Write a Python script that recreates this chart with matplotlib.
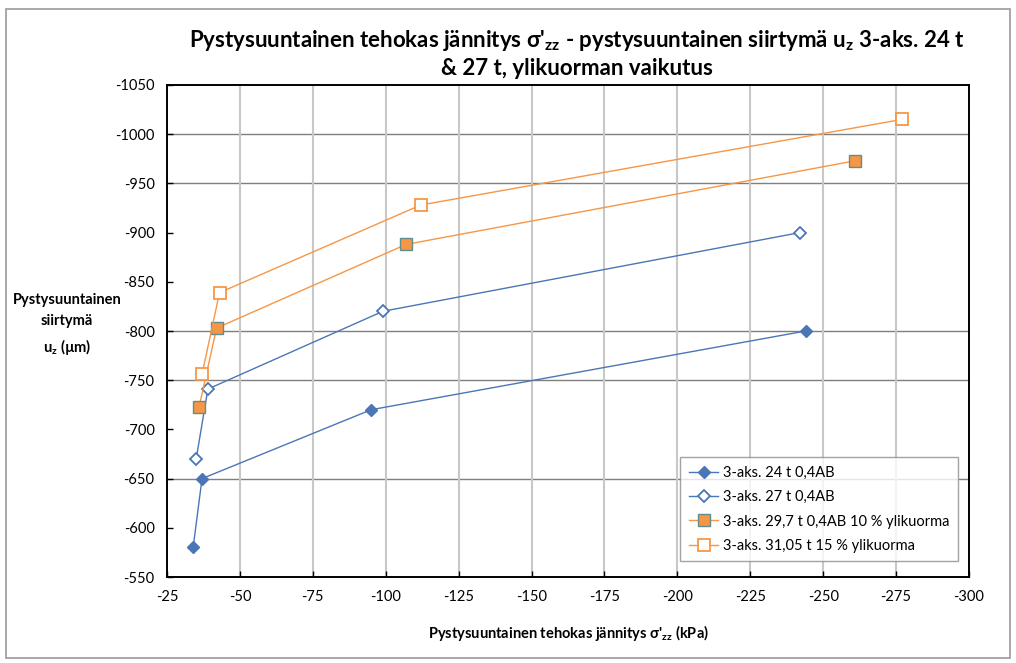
import matplotlib.pyplot as plt
from matplotlib.patches import Rectangle

plt.rcParams['font.family'] = ['Lato', 'DejaVu Sans']
plt.rcParams['mathtext.default'] = 'regular'
plt.rcParams['axes.unicode_minus'] = False

# stress (kPa) and vertical displacement (um) per load case
labels = ['3-aks. 24 t 0,4AB',
          '3-aks. 27 t 0,4AB',
          '3-aks. 29,7 t 0,4AB 10 % ylikuorma',
          '3-aks. 31,05 t 15 % ylikuorma']
x_24 = [-34, -37, -95, -244]
y_24 = [-581, -650, -720, -800]
x_27 = [-35, -39, -99, -242]
y_27 = [-670, -741, -820, -900]
x_297 = [-36, -42, -107, -261]
y_297 = [-723, -803, -888, -973]
x_3105 = [-37, -43, -112, -277]
y_3105 = [-756, -839, -928, -1015]

x_ticks = list(range(-25, -301, -25))
y_ticks = list(range(-550, -1051, -50))
hgrid_levels = [-1000, -950, -800, -750, -650]

blue = '#4a76b8'
orange = '#f79646'

fig = plt.figure(figsize=(10.16, 6.63), dpi=100)
fig.patches.append(Rectangle((0.006, 0.008), 0.988, 0.978, transform=fig.transFigure,
                             fill=False, edgecolor='#9a9a9a', linewidth=1.2))
ax = fig.add_axes([0.1644, 0.1297, 0.7893, 0.7421])

for lv in hgrid_levels:
    ax.axhline(lv, color='#7f7f7f', linewidth=1.0, zorder=1)
for xv in x_ticks[1:-1]:
    ax.axvline(xv, color='#c8c8c8', linewidth=1.5, zorder=1)

ax.plot(x_24, y_24, color=blue, linewidth=1.0, marker='D', markersize=6.5,
        markerfacecolor=blue, markeredgecolor=blue, label=labels[0], zorder=3)
ax.plot(x_27, y_27, color=blue, linewidth=1.0, marker='D', markersize=6.5,
        markerfacecolor='white', markeredgecolor=blue, markeredgewidth=1.3,
        label=labels[1], zorder=3)
ax.plot(x_297, y_297, color=orange, linewidth=1.0, marker='s', markersize=8.5,
        markerfacecolor=orange, markeredgecolor='#5f8f8c', markeredgewidth=1.0,
        label=labels[2], zorder=3)
ax.plot(x_3105, y_3105, color=orange, linewidth=1.0, marker='s', markersize=8.5,
        markerfacecolor='white', markeredgecolor=orange, markeredgewidth=1.3,
        label=labels[3], zorder=3)

ax.set_xlim(-25, -300)
ax.set_ylim(-550, -1050)
ax.set_xticks(x_ticks)
ax.set_yticks(y_ticks)
ax.tick_params(direction='in', length=4, width=1, labelsize=10.5, pad=9,
               colors='black')
for s in ax.spines.values():
    s.set_color('black')
    s.set_linewidth(1.4)

ax.set_xlabel("Pystysuuntainen tehokas jännitys σ'$_{zz}$ (kPa)",
              fontsize=10.5, fontweight='bold', labelpad=14)
fig.text(0.066, 0.51, 'Pystysuuntainen\nsiirtymä\nu$_z$ (µm)', ha='center',
         va='center', fontsize=10.5, fontweight='bold', linespacing=1.6)

fig.suptitle("Pystysuuntainen tehokas jännitys σ'$_{zz}$ - pystysuuntainen siirtymä u$_z$ 3-aks. 24 t\n"
             "& 27 t, ylikuorman vaikutus",
             x=0.568, y=0.958, fontsize=16, fontweight='bold', linespacing=1.3)

leg = ax.legend(loc='upper left', bbox_to_anchor=(0.631, 0.258), fontsize=10.5,
                frameon=True, fancybox=False, edgecolor='#8c8c8c',
                borderpad=0.6, labelspacing=0.7, handlelength=2.0,
                handletextpad=0.3)
leg.get_frame().set_linewidth(1.0)

fig.savefig('out.png', dpi=100)
